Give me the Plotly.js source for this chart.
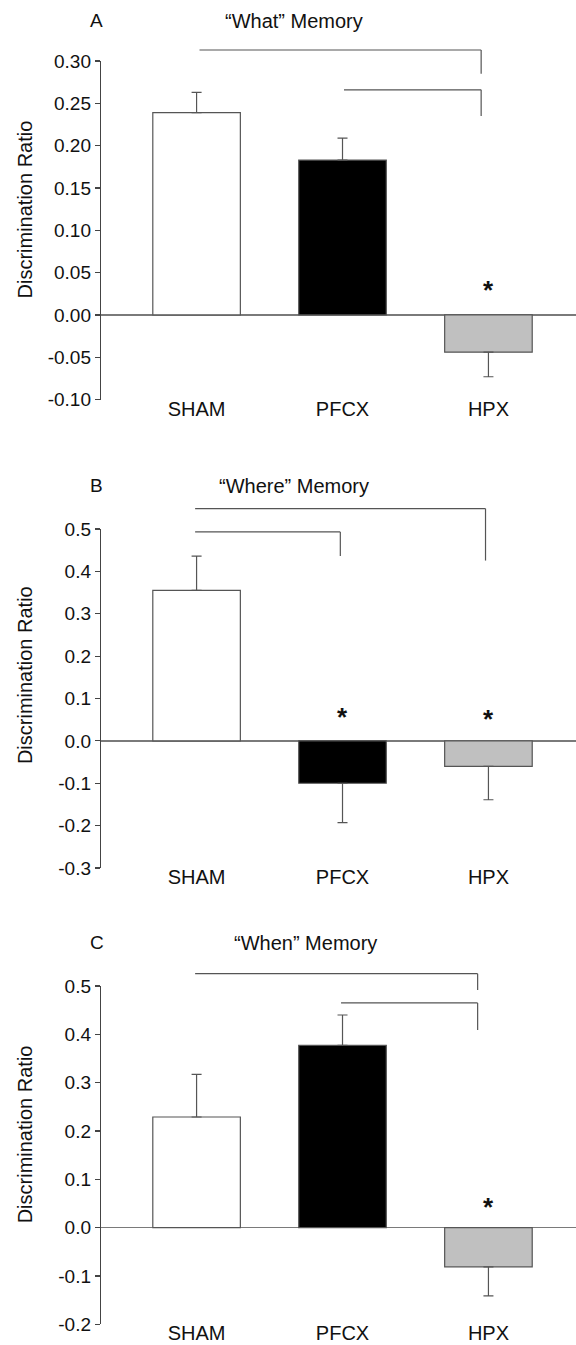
<!DOCTYPE html>
<html>
<head>
<meta charset="utf-8">
<script src="https://cdn.plot.ly/plotly-3.0.1.min.js"></script>
<style>html,body{margin:0;padding:0;background:#fff;}#chart{width:576px;height:1345px;}</style>
</head>
<body>
<div id="chart"></div>
<script>
// ---- data ----
const categories = ['SHAM', 'PFCX', 'HPX'];
const whatMean  = [0.239, 0.183, -0.044];
const whatSem   = [0.024, 0.026, 0.029];
const whereMean = [0.355, -0.100, -0.060];
const whereSem  = [0.081, 0.093, 0.079];
const whenMean  = [0.229, 0.377, -0.081];
const whenSem   = [0.088, 0.063, 0.060];
const barColors = ['#ffffff', '#000000', '#c0c0c0'];
const panelLetters = ['A', 'B', 'C'];
const panelTitles = ['\u201CWhat\u201D Memory', '\u201CWhere\u201D Memory', '\u201CWhen\u201D Memory'];
const yTitle = 'Discrimination Ratio';
// y tick labels (hyphen minus, as in the reference)
const whatTickVals  = [-0.10, -0.05, 0.00, 0.05, 0.10, 0.15, 0.20, 0.25, 0.30];
const whatTickText  = ['-0.10', '-0.05', '0.00', '0.05', '0.10', '0.15', '0.20', '0.25', '0.30'];
const whereTickVals = [-0.3, -0.2, -0.1, 0.0, 0.1, 0.2, 0.3, 0.4, 0.5];
const whereTickText = ['-0.3', '-0.2', '-0.1', '0.0', '0.1', '0.2', '0.3', '0.4', '0.5'];
const whenTickVals  = [-0.2, -0.1, 0.0, 0.1, 0.2, 0.3, 0.4, 0.5];
const whenTickText  = ['-0.2', '-0.1', '0.0', '0.1', '0.2', '0.3', '0.4', '0.5'];
// significance stars: category, value
const whatStars  = {cat: ['HPX'], y: [0.034]};
const whereStars = {cat: ['PFCX', 'HPX'], y: [0.066, 0.061]};
const whenStars  = {cat: ['HPX'], y: [0.050]};
// comparison brackets: [x start, x end, bar level, drop end] in category units / data values
const whatBrackets  = [[0.02, 1.95, 0.313, 0.285], [1.01, 1.95, 0.266, 0.235]];
const whereBrackets = [[-0.01, 1.98, 0.548, 0.4255], [-0.01, 0.985, 0.493, 0.436]];
const whenBrackets  = [[-0.01, 1.926, 0.5256, 0.4918], [0.99, 1.926, 0.4649, 0.409]];

// ---- layout helpers ----
const FONT = 'Liberation Sans, Arial, Helvetica, sans-serif';
const panels = [
  {mean: whatMean,  sem: whatSem,  stars: whatStars,  brackets: whatBrackets,
   tv: whatTickVals, tt: whatTickText,
   range: [-0.10, 0.30], domain: [0.70290, 0.95465],
   letterY: 0.9846, titleX: 0.407, titleY: 0.9846, yTitleVal: 0.124},
  {mean: whereMean, sem: whereSem, stars: whereStars, brackets: whereBrackets,
   tv: whereTickVals, tt: whereTickText,
   range: [-0.3, 0.5], domain: [0.35465, 0.60669],
   letterY: 0.6387, titleX: 0.407, titleY: 0.6387, yTitleVal: 0.154},
  {mean: whenMean,  sem: whenSem,  stars: whenStars,  brackets: whenBrackets,
   tv: whenTickVals, tt: whenTickText,
   range: [-0.2, 0.5], domain: [0.01539, 0.26691],
   letterY: 0.2991, titleX: 0.430, titleY: 0.2991, yTitleVal: 0.192}
];

const data = [];
const layout = {
  width: 576, height: 1345,
  margin: {l: 100.5, r: 0, t: 0, b: 0},
  paper_bgcolor: '#ffffff', plot_bgcolor: '#ffffff',
  showlegend: false,
  font: {family: FONT, color: '#111111', size: 19},
  annotations: [], shapes: []
};

panels.forEach((p, i) => {
  const n = i === 0 ? '' : String(i + 1);
  const xa = 'x' + n, ya = 'y' + n;
  data.push({
    type: 'bar', x: categories, y: p.mean, xaxis: xa, yaxis: ya,
    width: 0.6,
    marker: {color: barColors, line: {color: '#555555', width: 1.2}},
    error_y: {
      type: 'data', symmetric: false, visible: true,
      array: p.mean.map((m, k) => m >= 0 ? p.sem[k] : 0),
      arrayminus: p.mean.map((m, k) => m < 0 ? p.sem[k] : 0),
      color: '#555555', thickness: 1.2, width: 5
    },
    hoverinfo: 'skip'
  });
  layout['xaxis' + n] = {
    anchor: ya, domain: [0, 1], type: 'category',
    range: [-0.655, 2.6], showline: false, zeroline: false, showgrid: false,
    ticks: '', ticklabelstandoff: -5,
    tickfont: {size: 20, family: FONT, color: '#111'}, fixedrange: true
  };
  layout['yaxis' + n] = {
    anchor: xa, domain: p.domain, range: p.range,
    tickmode: 'array', tickvals: p.tv, ticktext: p.tt,
    showline: true, linecolor: '#444444', linewidth: 1.2,
    ticks: 'outside', ticklen: 5, tickcolor: '#444444', tickwidth: 1.2,
    tickfont: {size: 19, family: FONT, color: '#111'},
    showgrid: false, zeroline: true, zerolinecolor: '#7a7a7a', zerolinewidth: 1.5,
    fixedrange: true
  };
  // y axis title
  layout.annotations.push({
    text: yTitle, textangle: -90, xref: 'paper', x: 0, xshift: -76.5,
    yref: ya, y: p.yTitleVal, xanchor: 'center', yanchor: 'middle',
    showarrow: false, font: {size: 20, family: FONT, color: '#111'}
  });
  // panel letter and title
  layout.annotations.push({
    text: panelLetters[i], xref: 'paper', yref: 'paper', x: -0.009, y: p.letterY,
    xanchor: 'center', yanchor: 'middle', showarrow: false,
    font: {size: 19, family: FONT, color: '#111'}
  });
  layout.annotations.push({
    text: panelTitles[i], xref: 'paper', yref: 'paper', x: p.titleX, y: p.titleY,
    xanchor: 'center', yanchor: 'middle', showarrow: false,
    font: {size: 20, family: FONT, color: '#111'}
  });
  // stars
  p.stars.cat.forEach((c, k) => {
    layout.annotations.push({
      text: '<b>*</b>', xref: xa, yref: ya, x: c, y: p.stars.y[k],
      xanchor: 'center', yanchor: 'middle', yshift: -4, showarrow: false,
      font: {size: 26, family: FONT, color: '#111'}
    });
  });
  // brackets (y positions converted to axis-domain fractions so they can sit above the axis top)
  const frac = v => (v - p.range[0]) / (p.range[1] - p.range[0]);
  p.brackets.forEach(b => {
    const line = {color: '#555555', width: 1.2};
    layout.shapes.push({type: 'line', xref: xa, yref: ya + ' domain',
      x0: b[0], x1: b[1], y0: frac(b[2]), y1: frac(b[2]), line: line});
    layout.shapes.push({type: 'line', xref: xa, yref: ya + ' domain',
      x0: b[1], x1: b[1], y0: frac(b[2]), y1: frac(b[3]), line: line});
  });
});

Plotly.newPlot('chart', data, layout, {staticPlot: true, displayModeBar: false});
</script>
</body>
</html>
